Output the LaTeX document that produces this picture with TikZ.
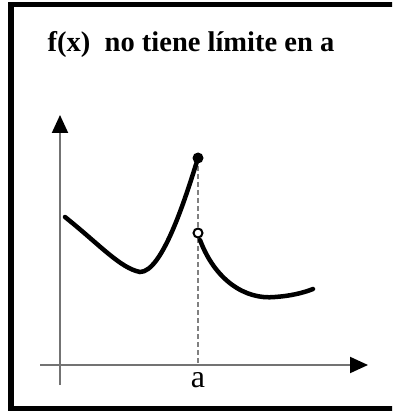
\documentclass[tikz,border=0pt]{standalone}
\usepackage{fontspec}
\setmainfont{Liberation Serif}
\usetikzlibrary{arrows.meta}
\begin{document}
\begin{tikzpicture}[x=1pt,y=-1pt,
  axis/.style={draw=black!55, line width=2pt, -{Triangle[length=18pt,width=16pt,fill=black,color=black]}},
  curve/.style={line width=4.5pt, line cap=round, black},
  guide/.style={draw=black!50, line width=1.5pt, dash pattern=on 5pt off 3pt},
  frameline/.style={line width=5.5pt}]
\useasboundingbox (0,0) rectangle (392,411);
\clip (0,0) rectangle (392,411);
\coordinate (ftr) at (430,4.5);
\coordinate (ftl) at (11,4.5);
\coordinate (fbl) at (11,408.5);
\coordinate (fbr) at (430,408.5);
\draw[frameline] (ftr) -- (ftl) -- (fbl) -- (fbr);
\node[font=\bfseries\fontsize{28.5}{34}\selectfont, anchor=base] (title) at (191,52) {f(x)\ \ no tiene límite en a};
% axes
\coordinate (O) at (60,365);
\coordinate (ybot) at (60,385);
\coordinate (ytop) at (60,115);
\coordinate (xleft) at (40,365);
\coordinate (xright) at (368,365);
\draw[axis] (ybot) -- (ytop);
\draw[axis] (xleft) -- (xright);
% points
\coordinate (P) at (198,158);
\coordinate (Q) at (198,233);
\coordinate (A) at (198,365);
\draw[guide] (P) -- (A);
\draw[curve] (65,217) .. controls (100,245) and (120,268) .. (140,272)
  .. controls (162,272) and (185,200) .. (P);
\draw[curve] (200,240) .. controls (215,280) and (245,300) .. (275,297)
  .. controls (290,296) and (303,293) .. (313,289);
\fill (P) circle (5.5pt);
\draw[line width=2pt, fill=white] (Q) circle (4.5pt);
\node[font=\fontsize{32}{36}\selectfont, anchor=base] (alabel) at (A |- 0,387) {a};
\end{tikzpicture}
\end{document}
